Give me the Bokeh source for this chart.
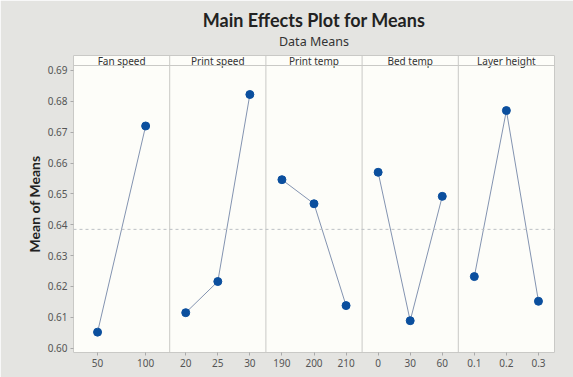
from bokeh.plotting import figure
from bokeh.models import (ColumnDataSource, Range1d, FixedTicker, Span, Title,
                          PrintfTickFormatter)
from bokeh.core.properties import value
from bokeh.embed import file_html
from bokeh.resources import INLINE

# ---- data ----
factors = ["Fan speed", "Print speed", "Print temp", "Bed temp", "Layer height"]
fan_levels = ["50", "100"]
fan_means = [0.6052, 0.6720]
speed_levels = ["20", "25", "30"]
speed_means = [0.6115, 0.6216, 0.6822]
temp_levels = ["190", "200", "210"]
temp_means = [0.6546, 0.6468, 0.6138]
bed_levels = ["0", "30", "60"]
bed_means = [0.6570, 0.6089, 0.6492]
layer_levels = ["0.1", "0.2", "0.3"]
layer_means = [0.6232, 0.6770, 0.6152]
grand_mean = 0.6385
y_ticks = [0.60, 0.61, 0.62, 0.63, 0.64, 0.65, 0.66, 0.67, 0.68, 0.69]

levels = [fan_levels, speed_levels, temp_levels, bed_levels, layer_levels]
means = [fan_means, speed_means, temp_means, bed_means, layer_means]

# ---- style / layout ----
FONT = "Noto Sans"
OUTER = "#e4e4e1"
PANEL = "#fdfdf9"
GRID = "#c9c9c6"
LINE = "#8393b0"
MARK = "#0b4f9e"
PW = 6  # panel width in x units

y_lo, y_hi = 0.5986, 0.6916
header_h = (y_hi - y_lo) * 10 / 287
y_top = y_hi + header_h

p = figure(width=573, height=377, output_backend="svg", toolbar_location=None,
           x_range=Range1d(0, PW * len(factors)), y_range=Range1d(y_lo, y_top),
           min_border_left=73, min_border_right=19, min_border_top=55,
           min_border_bottom=25)
p.background_fill_color = PANEL
p.border_fill_color = OUTER
p.outline_line_color = GRID
p.grid.visible = False

# titles
p.add_layout(Title(text="Data Means", align="center", text_font=FONT,
                   text_font_size="12.5px", text_font_style="normal",
                   text_color="#333333", standoff=12), "above")
p.add_layout(Title(text="Main Effects Plot for Means", align="center",
                   text_font="Lato", text_font_size="18px",
                   text_font_style="bold", text_color="#222222", standoff=-12),
             "above")

# panels
tick_pos, tick_lab = [], []
for i, (name, lv, mv) in enumerate(zip(factors, levels, means)):
    n = len(lv)
    xs = [PW * i + PW * (j + 0.5) / n for j in range(n)]
    tick_pos += xs
    tick_lab += lv
    src = ColumnDataSource(dict(x=xs, y=mv))
    p.line("x", "y", source=src, line_color=LINE, line_width=1)
    p.scatter("x", "y", source=src, size=8, fill_color=MARK, line_color=MARK)
    p.text(x=[PW * i + PW / 2], y=[y_hi + header_h / 2], text=[name],
           text_font=value(FONT), text_font_size="10px", text_color="#333333",
           text_align="center", text_baseline="middle")
    if i > 0:
        p.add_layout(Span(location=PW * i, dimension="height",
                          line_color=GRID, line_width=1))

p.add_layout(Span(location=y_hi, dimension="width", line_color=GRID, line_width=1))
p.add_layout(Span(location=grand_mean, dimension="width", line_color="#bcc0c4",
                  line_width=1, line_dash="3 3"))

# axes
xa = p.xaxis[0]
xa.ticker = FixedTicker(ticks=tick_pos)
xa.major_label_overrides = {t: l for t, l in zip(tick_pos, tick_lab)}
ya = p.yaxis[0]
ya.ticker = FixedTicker(ticks=y_ticks)
ya.formatter = PrintfTickFormatter(format="%.2f")
ya.axis_label = "Mean of Means"
ya.axis_label_text_font = "Lato"
ya.axis_label_text_font_size = "14px"
ya.axis_label_text_font_style = "bold"
ya.axis_label_text_color = "#222222"
ya.axis_label_standoff = 2
for ax in (xa, ya):
    ax.axis_line_color = None
    ax.major_tick_line_color = "#aaaaaa"
    ax.major_tick_out = 3
    ax.major_tick_in = 0
    ax.minor_tick_line_color = None
    ax.major_label_text_font = FONT
    ax.major_label_text_font_size = "10px"
    ax.major_label_text_color = "#555555"
    ax.major_label_standoff = 3
xa.major_label_standoff = 3

open("out.html", "w").write(file_html(p, INLINE))
